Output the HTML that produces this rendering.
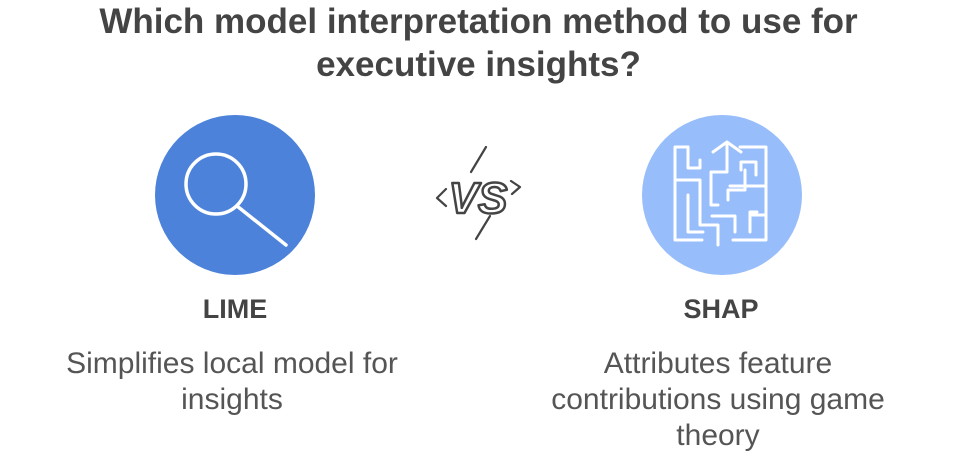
<!DOCTYPE html>
<html><head><meta charset="utf-8"><style>
body{margin:0;width:957px;height:464px;background:#fff;font-family:"Liberation Sans",Arial,sans-serif;color:#444;position:relative;overflow:hidden}
.t{position:absolute;left:0;width:957px;text-align:center;font-weight:bold;font-size:35px;line-height:43px;top:0px}
.h{position:absolute;font-weight:bold;font-size:27px;text-align:center;width:320px}
.d{position:absolute;font-size:30px;line-height:36px;text-align:center;width:460px;color:#555}
</style></head><body>
<div class="t">Which model interpretation method to use for<br>executive insights?</div>
<svg width="957" height="464" style="position:absolute;left:0;top:0">
<circle cx="235" cy="195" r="80" fill="#4c82da"/>
<circle cx="216" cy="184" r="30" fill="none" stroke="#fff" stroke-width="3.5"/>
<line x1="237" y1="206" x2="286" y2="245" stroke="#fff" stroke-width="3.5" stroke-linecap="round"/>
<circle cx="722" cy="195" r="80" fill="#97bdfb"/>
<g fill="none" stroke="#fff" stroke-width="3" stroke-linecap="round" stroke-linejoin="round">
<path d="M688 147 H675 V240 H702"/>
<path d="M688 147 V168 H700 V160"/>
<path d="M740 147 H766 V240 H733"/>
<path d="M688 195 V232 H703"/>
<path d="M675 180 H700 V225 H718 V245"/>
<path d="M718 205 H711 V172 H727 V142 M713 152 L727 142 L741 152"/>
<path d="M741 170 V162 H756 V175"/>
<path d="M745 170 V190 H728 V200"/>
<path d="M730 186 H766"/>
<path d="M757 212 H750 V232"/>
<path d="M712 216 H735 V232"/>
<path d="M766 215 H752"/>
</g>
<g fill="none" stroke="#444" stroke-width="2.2" stroke-linecap="round" stroke-linejoin="round">
<path d="M486 147 L471 172 M476 239 L490 216"/>
<path d="M446 189 L437 198 L446 206 M511 181 L520 187 L512 194"/>
</g>
<text x="478" y="213" text-anchor="middle" font-family="Liberation Sans, sans-serif" font-weight="bold" font-style="italic" font-size="44" fill="#fff" stroke="#444" stroke-width="2.5" stroke-linejoin="round">VS</text>
</svg>
<div class="h" style="left:75px;top:294px">LIME</div>
<div class="h" style="left:561px;top:294px">SHAP</div>
<div class="d" style="left:2px;top:346px">Simplifies local model for<br>insights</div>
<div class="d" style="left:488px;top:346px">Attributes feature<br>contributions using game<br>theory</div>
</body></html>
